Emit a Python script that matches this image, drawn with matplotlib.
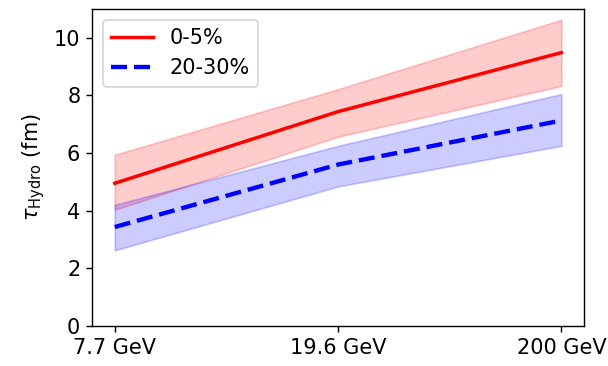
import numpy as np
import matplotlib.pyplot as plt

energies = ['7.7 GeV', '19.6 GeV', '200 GeV']

tau_central = [4.95, 7.44, 9.49]
tau_central_lo = [4.03, 6.57, 8.33]
tau_central_hi = [5.94, 8.22, 10.63]

tau_mid = [3.43, 5.6, 7.13]
tau_mid_lo = [2.62, 4.84, 6.25]
tau_mid_hi = [4.2, 6.25, 8.05]

x = np.arange(len(energies))

plt.rcParams['font.size'] = 12
fig, ax = plt.subplots(figsize=(4.864, 2.928), dpi=125)

ax.fill_between(x, tau_central_lo, tau_central_hi, color='r', alpha=0.2)
ax.plot(x, tau_central, 'r-', lw=2, label='0-5%')
ax.fill_between(x, tau_mid_lo, tau_mid_hi, color='b', alpha=0.2)
ax.plot(x, tau_mid, 'b--', lw=2.5, label='20-30%')

ax.set_xticks(x)
ax.set_xticklabels(energies)
ax.set_ylim(0, 11)
ax.set_ylabel(r'$\tau_{\rm Hydro}$ (fm)')
ax.legend(loc='upper left')

plt.subplots_adjust(left=0.152, right=0.96, top=0.975, bottom=0.11)
plt.savefig('out.png')
